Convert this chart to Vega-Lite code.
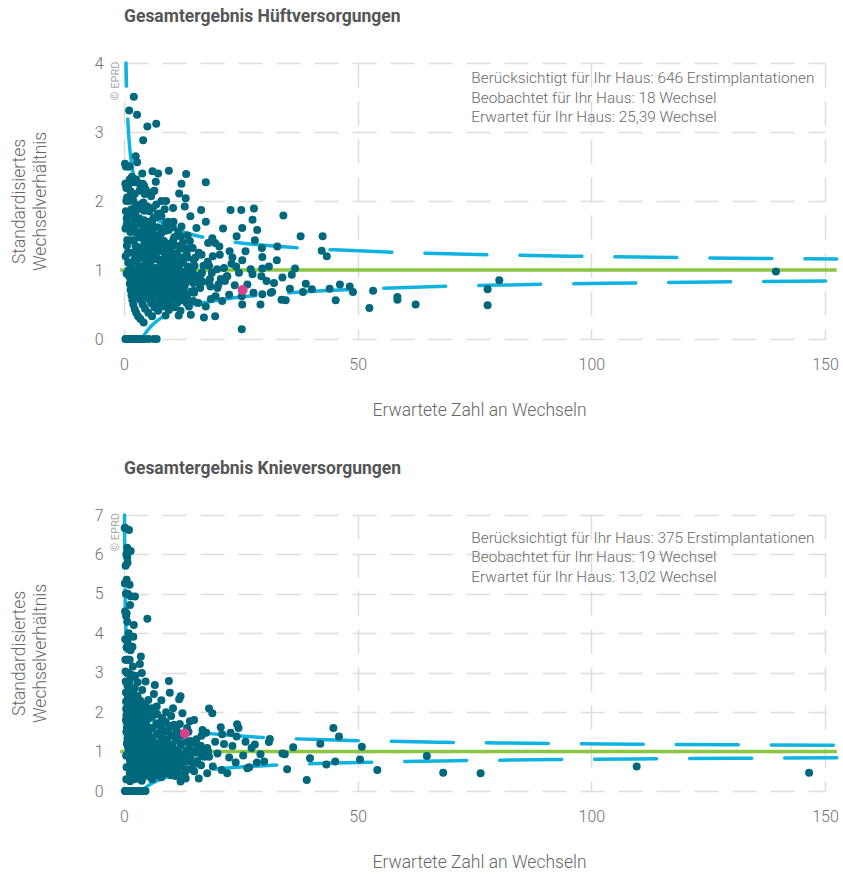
{
  "$schema": "https://vega.github.io/schema/vega-lite/v6.json",
  "background": "white",
  "padding": {"left": 10, "top": 7, "right": 0, "bottom": 0},
  "spacing": 40,
  "config": {
    "font": "Roboto",
    "view": {"stroke": null},
    "axis": {
      "grid": true, "gridDash": [24, 14], "gridColor": "#dddddd", "gridWidth": 1.5,
      "domain": false, "ticks": false, "labelOverlap": false, "labelFlush": false,
      "labelFontSize": 16, "labelColor": "#707070", "labelFontWeight": 300,
      "titleFontSize": 17.5, "titleFontWeight": 300, "titleColor": "#666666"
    },
    "title": {"anchor": "start", "frame": "group", "fontSize": 17.5, "fontWeight": "bold", "color": "#555555", "offset": 30}
  },
  "datasets": {
    "hip": [
      {"e":0.3,"r":0},{"e":0.45,"r":0},{"e":0.6,"r":0},{"e":0.75,"r":0},{"e":0.9,"r":0},{"e":1.05,"r":0},{"e":1.2,"r":0},{"e":1.4,"r":0},{"e":1.6,"r":0},{"e":1.8,"r":0},{"e":2.0,"r":0},{"e":2.3,"r":0},{"e":2.6,"r":0},{"e":2.9,"r":0},{"e":3.2,"r":0},{"e":3.6,"r":0},{"e":4.0,"r":0},{"e":4.4,"r":0},{"e":5.3,"r":0},{"e":6.4,"r":0},{"e":7.0,"r":0},
      {"e":0.4,"r":2.5},{"e":0.5,"r":2.0},{"e":0.6,"r":1.67},{"e":0.7,"r":1.43},{"e":0.8,"r":1.25},{"e":0.9,"r":1.11},{"e":1.0,"r":1.0},{"e":1.1,"r":0.91},{"e":1.25,"r":0.8},{"e":1.4,"r":0.71},{"e":1.6,"r":0.63},{"e":1.8,"r":0.56},{"e":2.0,"r":0.5},{"e":2.3,"r":0.43},{"e":2.6,"r":0.38},{"e":3.0,"r":0.33},{"e":3.5,"r":0.29},{"e":4.2,"r":0.24},
      {"e":0.8,"r":2.5},{"e":0.9,"r":2.22},{"e":1.0,"r":2.0},{"e":1.2,"r":1.67},{"e":1.4,"r":1.43},{"e":1.6,"r":1.25},{"e":1.8,"r":1.11},{"e":2.0,"r":1.0},{"e":2.2,"r":0.91},{"e":2.5,"r":0.8},{"e":2.8,"r":0.71},{"e":3.1,"r":0.65},{"e":3.5,"r":0.57},{"e":4.0,"r":0.5},{"e":4.5,"r":0.44},{"e":5.2,"r":0.38},{"e":6.0,"r":0.33},
      {"e":1.2,"r":2.5},{"e":1.4,"r":2.14},{"e":1.6,"r":1.88},{"e":1.9,"r":1.58},{"e":2.1,"r":1.43},{"e":2.4,"r":1.25},{"e":2.7,"r":1.11},{"e":3.0,"r":1.0},{"e":3.3,"r":0.91},{"e":3.7,"r":0.81},{"e":4.1,"r":0.73},{"e":4.6,"r":0.65},{"e":5.1,"r":0.59},{"e":5.8,"r":0.52},{"e":6.5,"r":0.46},{"e":7.3,"r":0.41},
      {"e":1.7,"r":2.35},{"e":2.0,"r":2.0},{"e":2.3,"r":1.74},{"e":2.6,"r":1.54},{"e":3.0,"r":1.33},{"e":3.4,"r":1.18},{"e":3.8,"r":1.05},{"e":4.2,"r":0.95},{"e":4.6,"r":0.87},{"e":5.0,"r":0.8},{"e":5.5,"r":0.73},{"e":6.1,"r":0.66},{"e":6.8,"r":0.59},{"e":7.6,"r":0.53},{"e":8.5,"r":0.47},
      {"e":2.2,"r":2.27},{"e":2.6,"r":1.92},{"e":3.0,"r":1.67},{"e":3.4,"r":1.47},{"e":3.8,"r":1.32},{"e":4.3,"r":1.16},{"e":4.8,"r":1.04},{"e":5.3,"r":0.94},{"e":5.8,"r":0.86},{"e":6.4,"r":0.78},{"e":7.0,"r":0.71},{"e":7.8,"r":0.64},{"e":8.7,"r":0.57},{"e":9.6,"r":0.52},
      {"e":2.6,"r":2.31},{"e":3.1,"r":1.94},{"e":3.6,"r":1.67},{"e":4.1,"r":1.46},{"e":4.6,"r":1.3},{"e":5.1,"r":1.18},{"e":5.6,"r":1.07},{"e":6.2,"r":0.97},{"e":6.8,"r":0.88},{"e":7.5,"r":0.8},{"e":8.3,"r":0.72},{"e":9.2,"r":0.65},{"e":10.3,"r":0.58},
      {"e":3.1,"r":2.26},{"e":3.7,"r":1.89},{"e":4.3,"r":1.63},{"e":4.9,"r":1.43},{"e":5.5,"r":1.27},{"e":6.1,"r":1.15},{"e":6.8,"r":1.03},{"e":7.5,"r":0.93},{"e":8.3,"r":0.84},{"e":9.1,"r":0.77},{"e":10.1,"r":0.69},{"e":11.3,"r":0.62},
      {"e":3.6,"r":2.22},{"e":4.3,"r":1.86},{"e":5.0,"r":1.6},{"e":5.6,"r":1.43},{"e":6.2,"r":1.29},{"e":6.9,"r":1.16},{"e":7.6,"r":1.05},{"e":8.4,"r":0.95},{"e":9.3,"r":0.86},{"e":10.2,"r":0.78},{"e":11.4,"r":0.7},{"e":12.5,"r":0.64},
      {"e":4.0,"r":2.25},{"e":4.8,"r":1.88},{"e":5.6,"r":1.61},{"e":6.3,"r":1.43},{"e":7.0,"r":1.29},{"e":7.8,"r":1.15},{"e":8.6,"r":1.05},{"e":9.5,"r":0.95},{"e":10.5,"r":0.86},{"e":11.6,"r":0.78},{"e":12.8,"r":0.7},
      {"e":4.6,"r":2.17},{"e":5.4,"r":1.85},{"e":6.2,"r":1.61},{"e":7.0,"r":1.43},{"e":7.8,"r":1.28},{"e":8.7,"r":1.15},{"e":9.6,"r":1.04},{"e":10.6,"r":0.94},{"e":11.7,"r":0.85},{"e":13.0,"r":0.77},{"e":14.4,"r":0.69},
      {"e":5.2,"r":2.12},{"e":6.3,"r":1.75},{"e":7.4,"r":1.49},{"e":8.5,"r":1.29},{"e":9.7,"r":1.13},{"e":10.9,"r":1.01},{"e":12.0,"r":0.92},{"e":13.3,"r":0.83},
      {"e":5.8,"r":2.07},{"e":6.8,"r":1.76},{"e":7.9,"r":1.52},{"e":8.9,"r":1.35},{"e":10.0,"r":1.2},{"e":11.0,"r":1.09},{"e":12.2,"r":0.98},{"e":13.4,"r":0.9},{"e":14.8,"r":0.81},{"e":16.3,"r":0.74},
      {"e":6.1,"r":2.13},{"e":7.2,"r":1.81},{"e":8.3,"r":1.57},{"e":9.5,"r":1.37},{"e":10.7,"r":1.21},{"e":12.0,"r":1.08},{"e":13.2,"r":0.98},{"e":14.6,"r":0.89},{"e":16.0,"r":0.81},
      {"e":6.5,"r":2.15},{"e":7.7,"r":1.82},{"e":8.9,"r":1.57},{"e":10.1,"r":1.39},{"e":11.3,"r":1.24},{"e":12.6,"r":1.11},{"e":13.9,"r":1.01},{"e":15.3,"r":0.92},{"e":16.8,"r":0.83},{"e":18.5,"r":0.76},
      {"e":8.0,"r":2.0},{"e":9.4,"r":1.7},{"e":10.8,"r":1.48},{"e":12.2,"r":1.31},{"e":13.6,"r":1.18},{"e":15.1,"r":1.06},{"e":16.7,"r":0.96},{"e":18.4,"r":0.87},{"e":20.2,"r":0.79},
      {"e":9.0,"r":2.0},{"e":10.6,"r":1.7},{"e":12.1,"r":1.49},{"e":13.7,"r":1.31},{"e":15.3,"r":1.18},{"e":17.0,"r":1.06},{"e":18.8,"r":0.96},{"e":20.7,"r":0.87},
      {"e":10.5,"r":1.9},{"e":12.3,"r":1.63},{"e":14.1,"r":1.42},{"e":16.0,"r":1.25},{"e":17.9,"r":1.12},{"e":19.9,"r":1.01},{"e":22.0,"r":0.91},
      {"e":13.0,"r":1.92},{"e":15.5,"r":1.61},{"e":18.0,"r":1.39},{"e":20.5,"r":1.22},{"e":23.0,"r":1.09},
      {"e":10.8,"r":0.46},{"e":12.1,"r":0.41},{"e":13.4,"r":0.52},{"e":9.6,"r":0.42},{"e":11.7,"r":0.34},{"e":8.9,"r":0.34},{"e":14.3,"r":0.35},{"e":13.9,"r":0.47},{"e":15.9,"r":0.52},{"e":17.1,"r":0.31},{"e":19.5,"r":0.33},{"e":17.5,"r":0.47},{"e":12.6,"r":0.56},{"e":11.2,"r":0.62},
      {"e":0.55,"r":0.95},{"e":0.62,"r":1.35},{"e":0.58,"r":1.75},{"e":0.66,"r":2.05},{"e":0.35,"r":1.2},{"e":0.3,"r":1.6},{"e":0.4,"r":1.85},{"e":0.28,"r":2.25},
      {"e":1.45,"r":0.85},{"e":1.6,"r":1.1},{"e":1.35,"r":1.55},{"e":1.55,"r":1.8},{"e":1.5,"r":2.1},
      {"e":2.3,"r":0.6},{"e":2.5,"r":0.95},{"e":2.2,"r":1.15},{"e":2.45,"r":1.35},{"e":2.35,"r":1.65},{"e":2.55,"r":1.85},{"e":2.3,"r":2.1},
      {"e":3.2,"r":0.7},{"e":3.45,"r":0.85},{"e":3.3,"r":1.05},{"e":3.15,"r":1.25},{"e":3.4,"r":1.55},{"e":3.25,"r":1.75},{"e":3.5,"r":1.95},{"e":3.3,"r":2.15},
      {"e":4.2,"r":0.62},{"e":4.0,"r":0.8},{"e":4.4,"r":1.05},{"e":4.1,"r":1.22},{"e":4.35,"r":1.38},{"e":4.05,"r":1.55},{"e":4.3,"r":1.72},{"e":4.15,"r":1.98},{"e":4.45,"r":2.1},
      {"e":5.1,"r":0.68},{"e":5.3,"r":0.9},{"e":4.95,"r":1.1},{"e":5.2,"r":1.28},{"e":5.05,"r":1.5},{"e":5.35,"r":1.7},{"e":5.0,"r":1.92},
      {"e":6.0,"r":0.55},{"e":6.2,"r":0.75},{"e":5.9,"r":0.92},{"e":6.1,"r":1.2},{"e":5.85,"r":1.38},{"e":6.25,"r":1.52},{"e":6.0,"r":1.7},{"e":6.15,"r":1.9},
      {"e":6.9,"r":0.62},{"e":7.1,"r":0.8},{"e":6.8,"r":0.98},{"e":7.0,"r":1.25},{"e":6.75,"r":1.35},{"e":7.15,"r":1.62},{"e":6.9,"r":1.95},
      {"e":7.8,"r":0.5},{"e":8.0,"r":0.72},{"e":7.7,"r":0.88},{"e":7.9,"r":1.1},{"e":8.1,"r":1.38},{"e":7.75,"r":1.6},{"e":8.0,"r":1.78},
      {"e":8.7,"r":0.6},{"e":8.9,"r":0.78},{"e":8.6,"r":0.98},{"e":8.8,"r":1.22},{"e":8.55,"r":1.42},{"e":8.95,"r":1.68},{"e":8.7,"r":1.88},
      {"e":9.6,"r":0.5},{"e":9.8,"r":0.68},{"e":9.5,"r":0.88},{"e":9.7,"r":1.12},{"e":9.9,"r":1.3},{"e":9.55,"r":1.58},
      {"e":10.5,"r":0.58},{"e":10.3,"r":0.75},{"e":10.7,"r":1.0},{"e":10.4,"r":1.17},{"e":10.6,"r":1.45},{"e":10.45,"r":1.62},
      {"e":11.4,"r":0.52},{"e":11.6,"r":0.8},{"e":11.3,"r":0.95},{"e":11.5,"r":1.12},{"e":11.2,"r":1.35},{"e":11.6,"r":1.55},
      {"e":12.3,"r":0.6},{"e":12.5,"r":0.75},{"e":12.2,"r":0.88},{"e":12.4,"r":1.18},{"e":12.6,"r":1.4},
      {"e":13.5,"r":0.62},{"e":13.3,"r":0.85},{"e":13.7,"r":1.05},{"e":13.4,"r":1.25},{"e":13.6,"r":1.5},
      {"e":14.8,"r":0.55},{"e":15.0,"r":0.7},{"e":14.6,"r":0.98},{"e":14.9,"r":1.15},{"e":14.7,"r":1.32},
      {"e":2.1,"r":3.51},{"e":1.1,"r":3.31},{"e":2.8,"r":3.25},{"e":6.9,"r":3.12},{"e":5.0,"r":3.08},{"e":4.1,"r":2.88},{"e":0.2,"r":2.54},{"e":2.5,"r":2.65},{"e":2.8,"r":2.56},{"e":6.1,"r":2.43},{"e":7.3,"r":2.4},{"e":9.6,"r":2.44},{"e":13.3,"r":2.39},{"e":17.5,"r":2.27},{"e":12.3,"r":2.25},{"e":6.8,"r":2.28},{"e":3.9,"r":2.4},{"e":1.2,"r":2.31},{"e":0.5,"r":2.19},{"e":4.3,"r":2.22},{"e":11.8,"r":2.11},{"e":13.2,"r":2.04},{"e":14.2,"r":1.78},{"e":16.5,"r":1.87},{"e":17.5,"r":1.7},
      {"e":22.8,"r":1.87},{"e":25.1,"r":1.87},{"e":27.8,"r":1.89},{"e":34.1,"r":1.79},{"e":21.2,"r":1.6},{"e":25.3,"r":1.61},{"e":27.5,"r":1.73},{"e":28.5,"r":1.58},{"e":24.1,"r":1.49},{"e":28.0,"r":1.43},{"e":29.5,"r":1.32},{"e":32.8,"r":1.34},{"e":37.8,"r":1.49},{"e":42.5,"r":1.49},{"e":42.3,"r":1.28},{"e":43.4,"r":1.2},{"e":29.6,"r":1.19},{"e":32.7,"r":1.14},{"e":23.2,"r":1.18},{"e":25.3,"r":1.14},{"e":27.1,"r":1.01},{"e":29.6,"r":1.02},{"e":21.4,"r":1.03},{"e":18.9,"r":1.46},{"e":19.5,"r":1.39},{"e":16.6,"r":1.22},{"e":18.2,"r":1.06},{"e":22.1,"r":0.91},{"e":24.6,"r":0.96},{"e":27.5,"r":0.94},{"e":29.4,"r":0.91},{"e":33.9,"r":0.89},{"e":35.9,"r":0.93},{"e":32.1,"r":0.81},{"e":31.7,"r":0.68},{"e":33.7,"r":0.57},{"e":34.6,"r":0.56},{"e":38.9,"r":0.8},{"e":38.3,"r":0.68},{"e":45.3,"r":0.56},{"e":46.2,"r":0.79},{"e":48.3,"r":0.76},{"e":49.0,"r":0.68},{"e":27.7,"r":0.67},{"e":29.6,"r":0.65},{"e":31.4,"r":0.67},{"e":29.2,"r":0.5},{"e":25.2,"r":0.62},{"e":25.3,"r":0.5},{"e":25.2,"r":0.14},{"e":22.5,"r":0.64},{"e":19.6,"r":0.62},{"e":15.0,"r":0.67},{"e":16.0,"r":0.84},{"e":16.4,"r":0.93},{"e":18.2,"r":0.82},{"e":20.0,"r":0.74},{"e":21.6,"r":0.84},{"e":53.3,"r":0.7},{"e":52.5,"r":0.45},{"e":58.5,"r":0.61},{"e":58.5,"r":0.57},{"e":62.4,"r":0.5},{"e":80.3,"r":0.85},{"e":77.8,"r":0.72},{"e":77.8,"r":0.49},{"e":139.5,"r":0.98},
      {"e":20.4,"r":1.34},{"e":22.6,"r":1.27},{"e":19.0,"r":1.2},{"e":23.7,"r":0.78},{"e":26.4,"r":0.79},{"e":21.0,"r":0.55},{"e":18.6,"r":0.58},{"e":30.5,"r":0.84},{"e":26.0,"r":1.27},{"e":35.5,"r":0.73},{"e":36.6,"r":1.02},{"e":40.2,"r":0.72},{"e":44.0,"r":0.73},{"e":31.0,"r":1.05},{"e":24.0,"r":1.05}
    ],
    "knee": [
      {"e":0.2,"r":0},{"e":0.35,"r":0},{"e":0.5,"r":0},{"e":0.65,"r":0},{"e":0.8,"r":0},{"e":0.95,"r":0},{"e":1.1,"r":0},{"e":1.3,"r":0},{"e":1.5,"r":0},{"e":1.7,"r":0},{"e":1.9,"r":0},{"e":2.2,"r":0},{"e":2.5,"r":0},{"e":2.8,"r":0},{"e":3.2,"r":0},{"e":3.6,"r":0},{"e":4.1,"r":0},{"e":4.6,"r":0},
      {"e":0.15,"r":6.67},{"e":0.19,"r":5.26},{"e":0.22,"r":4.55},{"e":0.26,"r":3.85},{"e":0.3,"r":3.33},{"e":0.33,"r":3.03},{"e":0.36,"r":2.78},{"e":0.4,"r":2.5},{"e":0.44,"r":2.27},{"e":0.48,"r":2.08},{"e":0.52,"r":1.92},{"e":0.57,"r":1.75},{"e":0.62,"r":1.61},{"e":0.68,"r":1.47},{"e":0.75,"r":1.33},{"e":0.82,"r":1.22},{"e":0.9,"r":1.11},{"e":1.0,"r":1.0},{"e":1.1,"r":0.91},{"e":1.2,"r":0.83},{"e":1.35,"r":0.74},{"e":1.5,"r":0.67},{"e":1.7,"r":0.59},{"e":1.9,"r":0.53},{"e":2.1,"r":0.48},{"e":2.4,"r":0.42},{"e":2.8,"r":0.36},{"e":3.2,"r":0.31},{"e":3.8,"r":0.26},
      {"e":0.3,"r":6.67},{"e":0.35,"r":5.71},{"e":0.4,"r":5.0},{"e":0.45,"r":4.44},{"e":0.55,"r":3.64},{"e":0.6,"r":3.33},{"e":0.67,"r":2.99},{"e":0.75,"r":2.67},{"e":0.83,"r":2.41},{"e":0.92,"r":2.17},{"e":1.0,"r":2.0},{"e":1.1,"r":1.82},{"e":1.2,"r":1.67},{"e":1.32,"r":1.52},{"e":1.45,"r":1.38},{"e":1.6,"r":1.25},{"e":1.75,"r":1.14},{"e":1.9,"r":1.05},{"e":2.1,"r":0.95},{"e":2.3,"r":0.87},{"e":2.5,"r":0.8},{"e":2.8,"r":0.71},{"e":3.1,"r":0.65},{"e":3.5,"r":0.57},{"e":4.0,"r":0.5},{"e":4.6,"r":0.43},{"e":5.3,"r":0.38},
      {"e":0.5,"r":6.0},{"e":0.6,"r":5.0},{"e":0.7,"r":4.29},{"e":0.8,"r":3.75},{"e":0.9,"r":3.33},{"e":1.0,"r":3.0},{"e":1.1,"r":2.73},{"e":1.25,"r":2.4},{"e":1.4,"r":2.14},{"e":1.55,"r":1.94},{"e":1.7,"r":1.76},{"e":1.9,"r":1.58},{"e":2.1,"r":1.43},{"e":2.3,"r":1.3},{"e":2.5,"r":1.2},{"e":2.8,"r":1.07},{"e":3.1,"r":0.97},{"e":3.4,"r":0.88},{"e":3.8,"r":0.79},{"e":4.2,"r":0.71},{"e":4.7,"r":0.64},{"e":5.3,"r":0.57},{"e":6.0,"r":0.5},{"e":7.0,"r":0.43},
      {"e":0.8,"r":5.0},{"e":1.0,"r":4.0},{"e":1.2,"r":3.33},{"e":1.4,"r":2.86},{"e":1.6,"r":2.5},{"e":1.8,"r":2.22},{"e":2.0,"r":2.0},{"e":2.2,"r":1.82},{"e":2.5,"r":1.6},{"e":2.8,"r":1.43},{"e":3.1,"r":1.29},{"e":3.4,"r":1.18},{"e":3.7,"r":1.08},{"e":4.0,"r":1.0},{"e":4.4,"r":0.91},{"e":4.8,"r":0.83},{"e":5.3,"r":0.75},{"e":5.9,"r":0.68},{"e":6.6,"r":0.61},{"e":7.5,"r":0.53},{"e":8.5,"r":0.47},
      {"e":1.4,"r":3.57},{"e":1.7,"r":2.94},{"e":2.0,"r":2.5},{"e":2.3,"r":2.17},{"e":2.6,"r":1.92},{"e":2.9,"r":1.72},{"e":3.2,"r":1.56},{"e":3.6,"r":1.39},{"e":4.0,"r":1.25},{"e":4.4,"r":1.14},{"e":4.8,"r":1.04},{"e":5.3,"r":0.94},{"e":5.8,"r":0.86},{"e":6.4,"r":0.78},{"e":7.1,"r":0.7},{"e":8.0,"r":0.63},{"e":9.0,"r":0.56},{"e":10.0,"r":0.5},
      {"e":1.9,"r":3.16},{"e":2.3,"r":2.61},{"e":2.7,"r":2.22},{"e":3.1,"r":1.94},{"e":3.5,"r":1.71},{"e":3.9,"r":1.54},{"e":4.4,"r":1.36},{"e":4.9,"r":1.22},{"e":5.4,"r":1.11},{"e":6.0,"r":1.0},{"e":6.6,"r":0.91},{"e":7.3,"r":0.82},{"e":8.1,"r":0.74},{"e":9.0,"r":0.67},{"e":10.0,"r":0.6},{"e":11.2,"r":0.54},
      {"e":2.4,"r":2.92},{"e":2.9,"r":2.41},{"e":3.4,"r":2.06},{"e":3.9,"r":1.79},{"e":4.4,"r":1.59},{"e":5.0,"r":1.4},{"e":5.6,"r":1.25},{"e":6.2,"r":1.13},{"e":6.9,"r":1.01},{"e":7.6,"r":0.92},{"e":8.4,"r":0.83},{"e":9.3,"r":0.75},{"e":10.3,"r":0.68},{"e":11.5,"r":0.61},
      {"e":2.9,"r":2.76},{"e":3.5,"r":2.29},{"e":4.1,"r":1.95},{"e":4.7,"r":1.7},{"e":5.3,"r":1.51},{"e":5.9,"r":1.36},{"e":6.6,"r":1.21},{"e":7.3,"r":1.1},{"e":8.1,"r":0.99},{"e":8.9,"r":0.9},{"e":9.8,"r":0.82},{"e":10.9,"r":0.73},{"e":12.1,"r":0.66},
      {"e":3.9,"r":2.56},{"e":4.6,"r":2.17},{"e":5.4,"r":1.85},{"e":6.2,"r":1.61},{"e":7.0,"r":1.43},{"e":7.9,"r":1.27},{"e":8.8,"r":1.14},{"e":9.8,"r":1.02},{"e":10.9,"r":0.92},{"e":12.1,"r":0.83},{"e":13.4,"r":0.75},{"e":14.8,"r":0.68},
      {"e":5.2,"r":2.31},{"e":6.1,"r":1.97},{"e":7.1,"r":1.69},{"e":8.1,"r":1.48},{"e":9.2,"r":1.3},{"e":10.3,"r":1.17},{"e":11.5,"r":1.04},{"e":12.8,"r":0.94},{"e":14.2,"r":0.85},{"e":15.7,"r":0.76},
      {"e":7.0,"r":2.14},{"e":8.3,"r":1.81},{"e":9.6,"r":1.56},{"e":11.0,"r":1.36},{"e":12.4,"r":1.21},{"e":13.9,"r":1.08},{"e":15.5,"r":0.97},{"e":17.2,"r":0.87},
      {"e":9.0,"r":2.0},{"e":10.7,"r":1.68},{"e":12.4,"r":1.45},{"e":14.2,"r":1.27},{"e":16.0,"r":1.13},{"e":18.0,"r":1.0},
      {"e":0.5,"r":0.3},{"e":0.55,"r":0.6},{"e":0.45,"r":0.9},{"e":0.6,"r":1.2},{"e":0.5,"r":1.5},{"e":0.42,"r":1.8},{"e":0.58,"r":2.1},
      {"e":1.3,"r":0.25},{"e":1.25,"r":0.45},{"e":1.4,"r":0.75},{"e":1.3,"r":1.05},{"e":1.2,"r":1.35},{"e":1.35,"r":1.65},{"e":1.28,"r":1.95},{"e":1.4,"r":2.25},
      {"e":2.2,"r":0.3},{"e":2.3,"r":0.55},{"e":2.15,"r":0.85},{"e":2.25,"r":1.15},{"e":2.1,"r":1.45},{"e":2.3,"r":1.75},{"e":2.2,"r":2.05},{"e":2.35,"r":2.3},
      {"e":3.1,"r":0.4},{"e":3.2,"r":0.65},{"e":3.0,"r":0.95},{"e":3.15,"r":1.25},{"e":3.05,"r":1.55},{"e":3.2,"r":1.85},{"e":3.1,"r":2.15},
      {"e":4.0,"r":0.35},{"e":4.1,"r":0.6},{"e":3.95,"r":0.8},{"e":4.05,"r":1.1},{"e":4.15,"r":1.4},{"e":3.9,"r":1.7},{"e":4.1,"r":2.0},{"e":4.0,"r":2.2},
      {"e":5.0,"r":0.4},{"e":5.1,"r":0.65},{"e":4.9,"r":0.9},{"e":5.05,"r":1.2},{"e":5.15,"r":1.5},{"e":4.95,"r":1.8},{"e":5.1,"r":2.05},
      {"e":6.0,"r":0.3},{"e":6.1,"r":0.55},{"e":5.9,"r":0.8},{"e":6.05,"r":1.05},{"e":6.15,"r":1.3},{"e":5.95,"r":1.6},{"e":6.1,"r":1.9},{"e":6.0,"r":2.1},
      {"e":7.0,"r":0.4},{"e":7.15,"r":0.62},{"e":6.9,"r":0.85},{"e":7.05,"r":1.15},{"e":7.2,"r":1.45},{"e":6.95,"r":1.72},{"e":7.1,"r":1.95},
      {"e":8.0,"r":0.35},{"e":8.15,"r":0.55},{"e":7.9,"r":0.78},{"e":8.05,"r":1.05},{"e":8.2,"r":1.35},{"e":7.95,"r":1.6},{"e":8.1,"r":1.85},
      {"e":9.0,"r":0.45},{"e":9.15,"r":0.7},{"e":8.9,"r":0.95},{"e":9.1,"r":1.2},{"e":9.2,"r":1.5},{"e":8.95,"r":1.75},
      {"e":10.0,"r":0.4},{"e":10.15,"r":0.6},{"e":9.9,"r":0.85},{"e":10.1,"r":1.1},{"e":10.2,"r":1.4},{"e":9.95,"r":1.65},{"e":10.1,"r":1.9},
      {"e":11.0,"r":0.5},{"e":11.2,"r":0.75},{"e":10.9,"r":1.0},{"e":11.1,"r":1.28},{"e":11.25,"r":1.55},
      {"e":12.0,"r":0.42},{"e":12.2,"r":0.62},{"e":11.9,"r":0.9},{"e":12.1,"r":1.15},{"e":12.25,"r":1.4},{"e":11.95,"r":1.7},
      {"e":13.5,"r":0.55},{"e":13.7,"r":0.8},{"e":13.4,"r":1.02},{"e":13.6,"r":1.25},{"e":13.8,"r":1.5},
      {"e":15.0,"r":0.5},{"e":15.2,"r":0.72},{"e":14.9,"r":1.0},{"e":15.1,"r":1.2},
      {"e":16.5,"r":0.65},{"e":16.7,"r":0.9},{"e":16.4,"r":1.15},{"e":16.6,"r":1.4},
      {"e":1.07,"r":6.62},{"e":0.7,"r":6.17},{"e":1.43,"r":6.09},{"e":0.7,"r":5.92},{"e":0.75,"r":5.79},{"e":0.57,"r":5.36},{"e":1.2,"r":5.23},{"e":1.43,"r":4.94},{"e":2.35,"r":4.93},{"e":1.3,"r":4.72},{"e":0.55,"r":4.51},{"e":5.0,"r":4.37},{"e":2.1,"r":4.21},{"e":0.7,"r":3.83},{"e":2.0,"r":3.91},{"e":1.8,"r":3.66},{"e":3.6,"r":3.41},{"e":3.4,"r":3.22},{"e":3.8,"r":2.99},{"e":4.6,"r":2.78},{"e":6.6,"r":2.69},{"e":9.6,"r":2.79},{"e":9.8,"r":2.49},{"e":6.4,"r":2.46},{"e":12.1,"r":2.4},{"e":11.8,"r":2.33},{"e":18.2,"r":2.09},{"e":18.9,"r":1.97},{"e":12.5,"r":1.97},{"e":14.1,"r":1.77},{"e":20.7,"r":1.62},{"e":21.0,"r":1.44},{"e":22.8,"r":1.48},{"e":24.2,"r":1.69},{"e":24.5,"r":1.6},{"e":21.4,"r":1.19},{"e":23.2,"r":1.14},{"e":24.1,"r":1.38},{"e":17.6,"r":1.48},{"e":17.8,"r":1.09},{"e":15.5,"r":1.31},{"e":18.2,"r":0.87},{"e":15.7,"r":0.7},{"e":17.8,"r":0.45},{"e":16.0,"r":0.32},{"e":13.2,"r":0.32},{"e":12.1,"r":0.24},{"e":20.9,"r":0.53},{"e":22.1,"r":0.45},{"e":23.9,"r":0.72},{"e":26.4,"r":0.58},{"e":28.4,"r":0.72},{"e":27.3,"r":1.09},{"e":29.2,"r":0.93},{"e":31.0,"r":1.24},{"e":31.2,"r":1.32},{"e":34.4,"r":0.93},{"e":34.9,"r":0.55},{"e":36.2,"r":1.11},{"e":39.1,"r":0.28},{"e":26.8,"r":0.6},{"e":39.8,"r":0.83},{"e":42.0,"r":1.2},{"e":44.8,"r":1.6},{"e":46.0,"r":1.38},{"e":43.3,"r":0.67},{"e":45.2,"r":0.75},{"e":50.5,"r":0.8},{"e":50.9,"r":1.12},{"e":54.2,"r":0.53},{"e":64.8,"r":0.89},{"e":68.3,"r":0.46},{"e":76.3,"r":0.45},{"e":109.7,"r":0.62},{"e":146.6,"r":0.46},{"e":33.9,"r":0.95},
      {"e":19.5,"r":1.25},{"e":16.5,"r":1.05},{"e":20.0,"r":0.95},{"e":22.5,"r":0.85},{"e":25.5,"r":0.9},{"e":19.0,"r":0.62},{"e":14.5,"r":0.55},{"e":13.0,"r":0.45},{"e":11.0,"r":0.38},{"e":16.8,"r":1.55},{"e":15.0,"r":1.8},{"e":26.0,"r":1.25},{"e":28.0,"r":1.18},{"e":30.0,"r":0.75},{"e":10.5,"r":2.1},{"e":8.0,"r":2.3},{"e":13.5,"r":1.6}
    ],
    "hipUp": [
      {"e":0.427,"v":4.0},{"e":0.5,"v":3.772},{"e":0.6,"v":3.53},{"e":0.7,"v":3.343},{"e":0.85,"v":3.126},{"e":1.0,"v":2.96},{"e":1.2,"v":2.789},{"e":1.5,"v":2.6},{"e":1.8,"v":2.461},{"e":2.2,"v":2.321},{"e":2.7,"v":2.193},{"e":3.3,"v":2.079},{"e":4,"v":1.98},{"e":5,"v":1.877},{"e":6,"v":1.8},{"e":7.5,"v":1.716},{"e":9,"v":1.653},{"e":11,"v":1.591},{"e":13,"v":1.544},{"e":16,"v":1.49},{"e":20,"v":1.438},{"e":25,"v":1.392},{"e":30,"v":1.358},{"e":37,"v":1.322},{"e":45,"v":1.292},{"e":55,"v":1.264},{"e":67,"v":1.239},{"e":80,"v":1.219},{"e":95,"v":1.201},{"e":110,"v":1.187},{"e":130,"v":1.172},{"e":152.5,"v":1.159}
    ],
    "lo": [
      {"e":3.84,"v":0.0},{"e":4,"v":0.02},{"e":5,"v":0.1235},{"e":6,"v":0.1998},{"e":7.5,"v":0.2843},{"e":9,"v":0.3467},{"e":11,"v":0.409},{"e":13,"v":0.4564},{"e":16,"v":0.51},{"e":20,"v":0.5617},{"e":25,"v":0.608},{"e":30,"v":0.6422},{"e":37,"v":0.6778},{"e":45,"v":0.7078},{"e":55,"v":0.7357},{"e":67,"v":0.7606},{"e":80,"v":0.7809},{"e":95,"v":0.7989},{"e":110,"v":0.8131},{"e":130,"v":0.8281},{"e":152.5,"v":0.8413}
    ],
    "kneeUp": [
      {"e":0.107,"v":7.0},{"e":0.13,"v":6.436},{"e":0.16,"v":5.9},{"e":0.2,"v":5.383},{"e":0.25,"v":4.92},{"e":0.3,"v":4.578},{"e":0.36,"v":4.267},{"e":0.427,"v":4.0},{"e":0.5,"v":3.772},{"e":0.6,"v":3.53},{"e":0.7,"v":3.343},{"e":0.85,"v":3.126},{"e":1.0,"v":2.96},{"e":1.2,"v":2.789},{"e":1.5,"v":2.6},{"e":1.8,"v":2.461},{"e":2.2,"v":2.321},{"e":2.7,"v":2.193},{"e":3.3,"v":2.079},{"e":4,"v":1.98},{"e":5,"v":1.877},{"e":6,"v":1.8},{"e":7.5,"v":1.716},{"e":9,"v":1.653},{"e":11,"v":1.591},{"e":13,"v":1.544},{"e":16,"v":1.49},{"e":20,"v":1.438},{"e":25,"v":1.392},{"e":30,"v":1.358},{"e":37,"v":1.322},{"e":45,"v":1.292},{"e":55,"v":1.264},{"e":67,"v":1.239},{"e":80,"v":1.219},{"e":95,"v":1.201},{"e":110,"v":1.187},{"e":130,"v":1.172},{"e":152.5,"v":1.159}
    ],
    "hipMark": [{"e":25.39,"r":0.709}],
    "kneeMark": [{"e":13.02,"r":1.459}],
    "one": [{"a":1}]
  },
  "vconcat": [
    {
      "width": 701, "height": 276,
      "title": "Gesamtergebnis Hüftversorgungen",
      "layer": [
        {
          "data": {"name": "one"},
          "mark": {"type": "rule", "color": "#8cc540", "strokeWidth": 3.5},
          "encoding": {"x": {"datum": -0.8, "type": "quantitative", "scale": {"domain": [0, 150], "nice": false, "zero": false}}, "x2": {"datum": 152.5}, "y": {"datum": 1, "type": "quantitative", "scale": {"domain": [0, 4], "nice": false}}}
        },
        {
          "data": {"name": "hipUp"},
          "mark": {"type": "line", "color": "#10b3e0", "strokeWidth": 3.5, "strokeDash": [62, 33], "strokeCap": "round", "strokeDashOffset": 39, "interpolate": "monotone"},
          "encoding": {"x": {"field": "e", "type": "quantitative", "scale": {"domain": [0, 150], "nice": false, "zero": false}}, "y": {"field": "v", "type": "quantitative", "scale": {"domain": [0, 4], "nice": false}}}
        },
        {
          "data": {"name": "lo"},
          "mark": {"type": "line", "color": "#10b3e0", "strokeWidth": 3.5, "strokeDash": [62, 33], "strokeCap": "round", "strokeDashOffset": 30, "interpolate": "monotone"},
          "encoding": {"x": {"field": "e", "type": "quantitative", "scale": {"domain": [0, 150], "nice": false, "zero": false}}, "y": {"field": "v", "type": "quantitative", "scale": {"domain": [0, 4], "nice": false}}}
        },
        {
          "data": {"name": "hip"},
          "mark": {"type": "circle", "size": 64, "color": "#00687d", "opacity": 1},
          "encoding": {
            "x": {"field": "e", "type": "quantitative", "scale": {"domain": [0, 150], "nice": false, "zero": false},
                  "axis": {"values": [0, 50, 100, 150], "tickCount": 4, "labelFlush": false, "title": "Erwartete Zahl an Wechseln", "labelPadding": 17, "titlePadding": 29, "titleX": 355}},
            "y": {"field": "r", "type": "quantitative", "scale": {"domain": [0, 4], "nice": false},
                  "axis": {"values": [0, 1, 2, 3, 4], "tickCount": 5, "format": "d", "labelOverlap": false, "title": ["Standardisiertes", "Wechselverhältnis"], "labelPadding": 21, "titlePadding": 44.5, "titleLineHeight": 21}}
          }
        },
        {
          "data": {"name": "hipMark"},
          "mark": {"type": "circle", "size": 100, "color": "#d8408b", "opacity": 1},
          "encoding": {"x": {"field": "e", "type": "quantitative", "scale": {"domain": [0, 150], "nice": false, "zero": false}}, "y": {"field": "r", "type": "quantitative", "scale": {"domain": [0, 4], "nice": false}}}
        },
        {
          "data": {"name": "one"},
          "mark": {"type": "text", "text": ["Berücksichtigt für Ihr Haus: 646 Erstimplantationen", "Beobachtet für Ihr Haus: 18 Wechsel", "Erwartet für Ihr Haus: 25,39 Wechsel"], "align": "left", "baseline": "top", "fontSize": 15.4, "fontWeight": 300, "lineHeight": 19.5, "color": "#6a6a6a"},
          "encoding": {"x": {"datum": 74.3, "type": "quantitative", "scale": {"domain": [0, 150], "nice": false, "zero": false}}, "y": {"datum": 3.88, "type": "quantitative", "scale": {"domain": [0, 4], "nice": false}}}
        },
        {
          "data": {"name": "one"},
          "mark": {"type": "text", "text": "© EPRD", "angle": 270, "align": "right", "baseline": "middle", "fontSize": 11, "color": "#a8a8a8"},
          "encoding": {"x": {"datum": -1.7, "type": "quantitative", "scale": {"domain": [0, 150], "nice": false, "zero": false}}, "y": {"datum": 4.02, "type": "quantitative", "scale": {"domain": [0, 4], "nice": false}}}
        }
      ]
    },
    {
      "width": 701, "height": 276,
      "title": "Gesamtergebnis Knieversorgungen",
      "layer": [
        {
          "data": {"name": "one"},
          "mark": {"type": "rule", "color": "#8cc540", "strokeWidth": 3.5},
          "encoding": {"x": {"datum": -0.8, "type": "quantitative", "scale": {"domain": [0, 150], "nice": false, "zero": false}}, "x2": {"datum": 152.5}, "y": {"datum": 1, "type": "quantitative", "scale": {"domain": [0, 7], "nice": false}}}
        },
        {
          "data": {"name": "kneeUp"},
          "mark": {"type": "line", "color": "#10b3e0", "strokeWidth": 3.5, "strokeDash": [62, 33], "strokeCap": "round", "strokeDashOffset": 20.6, "interpolate": "monotone"},
          "encoding": {"x": {"field": "e", "type": "quantitative", "scale": {"domain": [0, 150], "nice": false, "zero": false}}, "y": {"field": "v", "type": "quantitative", "scale": {"domain": [0, 7], "nice": false}}}
        },
        {
          "data": {"name": "lo"},
          "mark": {"type": "line", "color": "#10b3e0", "strokeWidth": 3.5, "strokeDash": [62, 33], "strokeCap": "round", "strokeDashOffset": 17.4, "interpolate": "monotone"},
          "encoding": {"x": {"field": "e", "type": "quantitative", "scale": {"domain": [0, 150], "nice": false, "zero": false}}, "y": {"field": "v", "type": "quantitative", "scale": {"domain": [0, 7], "nice": false}}}
        },
        {
          "data": {"name": "knee"},
          "mark": {"type": "circle", "size": 64, "color": "#00687d", "opacity": 1},
          "encoding": {
            "x": {"field": "e", "type": "quantitative", "scale": {"domain": [0, 150], "nice": false, "zero": false},
                  "axis": {"values": [0, 50, 100, 150], "tickCount": 4, "labelFlush": false, "title": "Erwartete Zahl an Wechseln", "labelPadding": 17, "titlePadding": 29, "titleX": 355}},
            "y": {"field": "r", "type": "quantitative", "scale": {"domain": [0, 7], "nice": false},
                  "axis": {"values": [0, 1, 2, 3, 4, 5, 6, 7], "tickCount": 8, "format": "d", "labelOverlap": false, "title": ["Standardisiertes", "Wechselverhältnis"], "labelPadding": 21, "titlePadding": 44.5, "titleLineHeight": 21}}
          }
        },
        {
          "data": {"name": "kneeMark"},
          "mark": {"type": "circle", "size": 100, "color": "#d8408b", "opacity": 1},
          "encoding": {"x": {"field": "e", "type": "quantitative", "scale": {"domain": [0, 150], "nice": false, "zero": false}}, "y": {"field": "r", "type": "quantitative", "scale": {"domain": [0, 7], "nice": false}}}
        },
        {
          "data": {"name": "one"},
          "mark": {"type": "text", "text": ["Berücksichtigt für Ihr Haus: 375 Erstimplantationen", "Beobachtet für Ihr Haus: 19 Wechsel", "Erwartet für Ihr Haus: 13,02 Wechsel"], "align": "left", "baseline": "top", "fontSize": 15.4, "fontWeight": 300, "lineHeight": 19.5, "color": "#6a6a6a"},
          "encoding": {"x": {"datum": 74.3, "type": "quantitative", "scale": {"domain": [0, 150], "nice": false, "zero": false}}, "y": {"datum": 6.6, "type": "quantitative", "scale": {"domain": [0, 7], "nice": false}}}
        },
        {
          "data": {"name": "one"},
          "mark": {"type": "text", "text": "© EPRD", "angle": 270, "align": "right", "baseline": "middle", "fontSize": 11, "color": "#a8a8a8"},
          "encoding": {"x": {"datum": -1.7, "type": "quantitative", "scale": {"domain": [0, 150], "nice": false, "zero": false}}, "y": {"datum": 7.05, "type": "quantitative", "scale": {"domain": [0, 7], "nice": false}}}
        }
      ]
    }
  ]
}
